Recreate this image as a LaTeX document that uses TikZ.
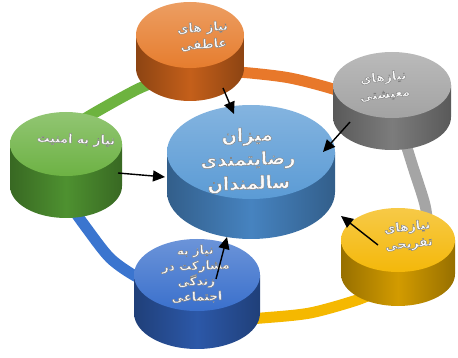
\documentclass[tikz,border=0pt]{standalone}
\usepackage{fontspec}
\newfontfamily\arabicfont[Script=Arabic]{DejaVu Sans}
\TeXXeTstate=1
\usetikzlibrary{arrows.meta}

\definecolor{orT}{HTML}{E67D2E}\definecolor{orS}{HTML}{C45F1A}
\definecolor{grT}{HTML}{A3A3A3}\definecolor{grS}{HTML}{7C7C7C}
\definecolor{gnT}{HTML}{6DB244}\definecolor{gnS}{HTML}{4E9130}
\definecolor{blT}{HTML}{5B9BD5}\definecolor{blS}{HTML}{4683C0}
\definecolor{ylT}{HTML}{F4B80A}\definecolor{ylS}{HTML}{D29B00}
\definecolor{nvT}{HTML}{3A70CC}\definecolor{nvS}{HTML}{2C58A8}
\definecolor{rgGreen}{HTML}{6DB33F}\definecolor{rgOrange}{HTML}{E8782A}
\definecolor{rgGray}{HTML}{A5A5A5}\definecolor{rgYellow}{HTML}{F5B800}
\definecolor{rgBlue}{HTML}{3B75CF}

\newcommand\drawpuck[7]{%
  \shade[left color=#7!72!black, right color=#7!72!black, middle color=#7]
    (#1-#3,#2) -- (#1-#3,#2+#5) arc[start angle=180,end angle=360,x radius=#3pt,y radius=#4pt] -- (#1+#3,#2) -- cycle;
  \shade[top color=#6!75!white, bottom color=#6] (#1,#2) ellipse[x radius=#3pt, y radius=#4pt];
}
% embossed text: white fill, gray outline (PDF text render mode 2)
\newcommand\emb[1]{\special{pdf:literal direct 0.5 G 0.45 w 2 Tr}#1\special{pdf:literal direct 0 Tr}}
\newcommand\ptext[6]{%
  \node[ptxt, rotate=#3, font=\arabicfont\bfseries\fontsize{#4}{#5}\selectfont] (#1) at (#2) {#6};
}

\begin{document}
\begin{tikzpicture}[x=1pt,y=-1pt,
  ringseg/.style={line width=11pt},
  ptxt/.style={align=center, text=white!97!gray, inner sep=0pt},
  arr/.style={draw=black, line width=1.4pt, -{Triangle[length=12pt,width=11pt]}}]
\useasboundingbox (0,0) rectangle (458,358);

% ring segments
\draw[ringseg, rgGreen] plot[smooth] coordinates {(70,128) (96,112) (140,88) (175,75)};
\draw[ringseg, rgOrange] plot[smooth] coordinates {(220,71) (250,73) (290,78) (333,89) (360,100)};
\draw[ringseg, rgGray] plot[smooth] coordinates {(403,135) (413,167) (425,205) (429,235)};
\draw[ringseg, rgYellow] plot[smooth] coordinates {(230,320) (262,318) (310,313) (357,300) (380,290)};
\draw[ringseg, rgBlue] plot[smooth] coordinates {(70,205) (85,226) (110,258) (137,277) (160,285)};

% pucks (back to front)
\drawpuck{190}{35}{54}{33}{33}{orT}{orS}
\drawpuck{392}{85}{59}{33}{32}{grT}{grS}
\drawpuck{251}{152}{84}{47}{40}{blT}{blS}
\drawpuck{66}{144}{56}{32}{42}{gnT}{gnS}
\drawpuck{398}{240}{57}{32}{34}{ylT}{ylS}
\drawpuck{197}{275}{63}{36}{38}{nvT}{nvS}

% texts
\ptext{tOr}{203,36}{4}{12.5}{17}{\emb{\beginR نیاز های\endR}\\\emb{\beginR عاطفی\endR}}
\ptext{tGr}{384,86}{6}{12.5}{17}{\emb{\beginR نیازهای\endR}\\\emb{\beginR معیشتی\endR}}
\ptext{tGn}{76,140}{-2}{12.5}{15}{\emb{\beginR نیاز به امنیت\endR}}
\ptext{tCt}{248,160}{2}{18}{24}{\emb{\beginR میزان\endR}\\\emb{\beginR رضایتمندی\endR}\\\emb{\beginR سالمندان\endR}}
\ptext{tYl}{408,236}{6}{12.5}{17}{\emb{\beginR نیازهای\endR}\\\emb{\beginR تفریحی\endR}}
\ptext{tNv}{196,274}{2}{12}{15.5}{\emb{\beginR نیاز به\endR}\\\emb{\beginR مشارکت در\endR}\\\emb{\beginR زندگی\endR}\\\emb{\beginR اجتماعی\endR}}

% arrows
\coordinate (aOs) at (223,88);  \coordinate (aOe) at (234,114);
\coordinate (aGs) at (350,122); \coordinate (aGe) at (323,152);
\coordinate (aNs) at (118,173); \coordinate (aNe) at (165,177);
\coordinate (aYs) at (378,245); \coordinate (aYe) at (341,216);
\coordinate (aBs) at (216,279); \coordinate (aBe) at (227,237);
\draw[arr] (aOs) -- (aOe);
\draw[arr] (aGs) -- (aGe);
\draw[arr] (aNs) -- (aNe);
\draw[arr] (aYs) -- (aYe);
\draw[arr] (aBs) -- (aBe);
\end{tikzpicture}
\end{document}
